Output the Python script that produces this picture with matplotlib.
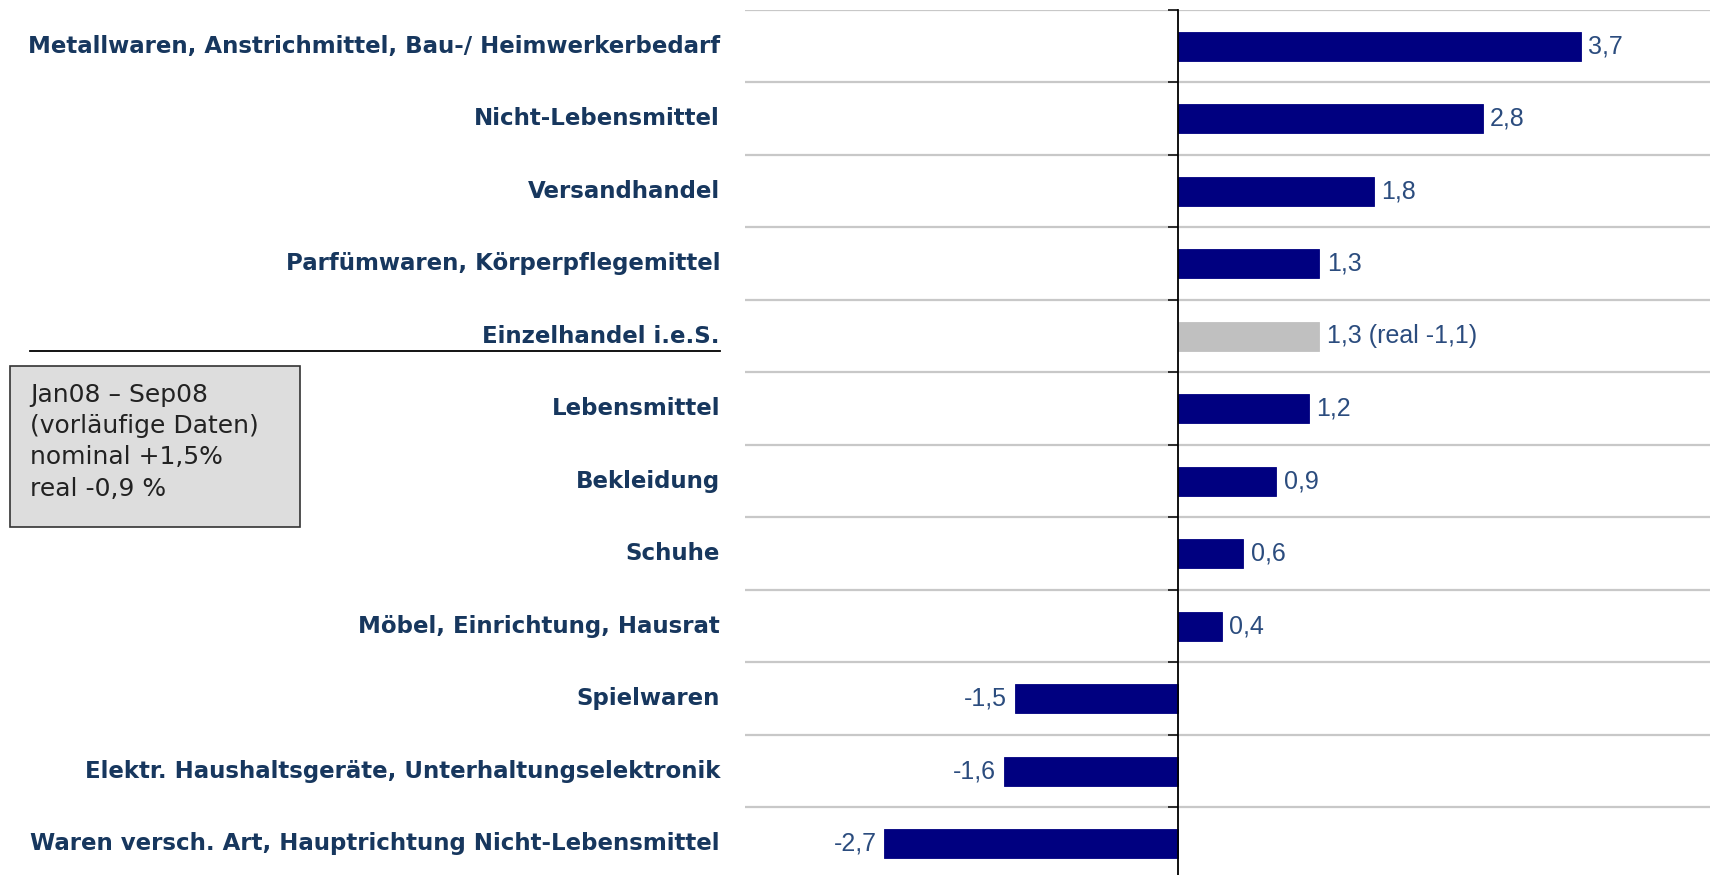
import numpy as np
import matplotlib.pyplot as plt
from matplotlib.patches import Rectangle
from matplotlib.transforms import blended_transform_factory

# Daten: Veränderung in %, Jan08 - Sep08
kategorien = ['Metallwaren, Anstrichmittel, Bau-/ Heimwerkerbedarf',
              'Nicht-Lebensmittel',
              'Versandhandel',
              'Parfümwaren, Körperpflegemittel',
              'Einzelhandel i.e.S.',
              'Lebensmittel',
              'Bekleidung',
              'Schuhe',
              'Möbel, Einrichtung, Hausrat',
              'Spielwaren',
              'Elektr. Haushaltsgeräte, Unterhaltungselektronik',
              'Waren versch. Art, Hauptrichtung Nicht-Lebensmittel']
werte = [3.7, 2.8, 1.8, 1.3, 1.3, 1.2, 0.9, 0.6, 0.4, -1.5, -1.6, -2.7]
beschriftung = ['3,7', '2,8', '1,8', '1,3', '1,3 (real -1,1)', '1,2', '0,9',
                '0,6', '0,4', '-1,5', '-1,6', '-2,7']
gesamt = 'Einzelhandel i.e.S.'
info = 'Jan08 – Sep08\n(vorläufige Daten)\nnominal +1,5%\nreal -0,9 %'

W, H = 1710, 875
fig = plt.figure(figsize=(W/100, H/100), dpi=100)
ax = fig.add_axes([745/W, 1 - 879.8/H, 1 - 745/W, 870/H])

y = np.arange(len(werte))
farben = ['#C0C0C0' if k == gesamt else '#000080' for k in kategorien]
ax.barh(y, werte, height=0.4, color=farben, edgecolor=farben, linewidth=0.6, zorder=3)

ax.set_xlim(-3.98, 4.89)
ax.set_ylim(len(werte) - 0.5, -0.5)

# Trennlinien zwischen den Kategorien
ax.set_yticks(np.arange(len(werte) + 1) - 0.5)
ax.set_yticklabels([])
ax.grid(axis='y', color='#C8C8C8', linewidth=1.6, zorder=0)
ax.tick_params(axis='y', direction='out', length=7, width=1.3, color='#202020')
ax.set_xticks([])

for s in ['top', 'right', 'bottom']:
    ax.spines[s].set_visible(False)
ax.spines['left'].set_position(('data', 0))
ax.spines['left'].set_linewidth(1.3)
ax.spines['left'].set_zorder(4)

for i, (w, t) in enumerate(zip(werte, beschriftung)):
    if w >= 0:
        ax.text(w + 0.07, i, t, ha='left', va='center', fontsize=18,
                family='Liberation Sans', color='#2B4C7E')
    else:
        ax.text(w - 0.07, i, t, ha='right', va='center', fontsize=18,
                family='Liberation Sans', color='#2B4C7E')

trans = blended_transform_factory(fig.transFigure, ax.transData)
for i, k in enumerate(kategorien):
    ax.text(720/W, i, k, transform=trans, ha='right', va='center',
            fontsize=16.5, fontweight='bold', family='DejaVu Sans', color='#17375E')

# Linie unter Einzelhandel i.e.S.
fig.add_artist(plt.Line2D([30/W, 720/W], [1 - 351/H, 1 - 351/H],
                          color='black', linewidth=1.3))

# Infokasten
fig.add_artist(Rectangle((10/W, 1 - 527/H), 290/W, 161/H, transform=fig.transFigure,
                         facecolor='#DDDDDD', edgecolor='#333333', linewidth=1.2))
fig.text(30/W, 1 - 383/H, info, ha='left', va='top', fontsize=18,
         family='DejaVu Sans', color='#222222', linespacing=1.38)

fig.savefig('out.png', dpi=100)
